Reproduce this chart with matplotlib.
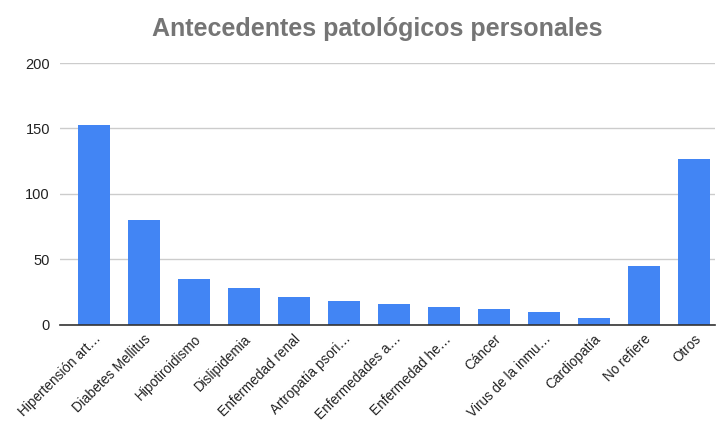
import matplotlib.pyplot as plt

plt.rcParams['font.family'] = ['Liberation Sans', 'DejaVu Sans']

# Data
categories = ['Hipertensión art…', 'Diabetes Mellitus', 'Hipotiroidismo', 'Dislipidemia',
              'Enfermedad renal', 'Artropatía psori…', 'Enfermedades a…', 'Enfermedad he…',
              'Cáncer', 'Virus de la inmu…', 'Cardiopatía', 'No refiere', 'Otros']
values = [153, 80, 35, 28, 21, 18, 16, 14, 12, 10, 5, 45, 127]
y_ticks = [0, 50, 100, 150, 200]

fig = plt.figure(figsize=(7.19, 4.23), dpi=100)
ax = fig.add_axes([0.083, 0.232, 0.911, 0.619])

x = range(len(categories))
ax.bar(x, values, width=0.64, color='#4285f4', zorder=3)

ax.set_ylim(0, 200)
ax.set_xlim(-0.68, 12.42)
ax.set_yticks(y_ticks)
ax.set_yticklabels([str(v) for v in y_ticks], fontsize=10.5, color='#222222')
ax.set_xticks(list(x))
ax.set_xticklabels(categories, rotation=45, ha='right', rotation_mode='anchor',
                   fontsize=9.8, color='#222222')
ax.tick_params(length=0, pad=5)
ax.tick_params(axis='y', pad=7)

ax.grid(axis='y', color='#cccccc', linewidth=1, zorder=0)
for side in ['top', 'right', 'left']:
    ax.spines[side].set_visible(False)
ax.spines['bottom'].set_color('#333333')
ax.spines['bottom'].set_linewidth(1.2)
ax.spines['bottom'].set_zorder(4)

fig.text(0.524, 0.931, 'Antecedentes patológicos personales', ha='center', va='center',
         fontsize=18, fontweight='bold', color='#757575')

fig.savefig('out.png', dpi=100)
